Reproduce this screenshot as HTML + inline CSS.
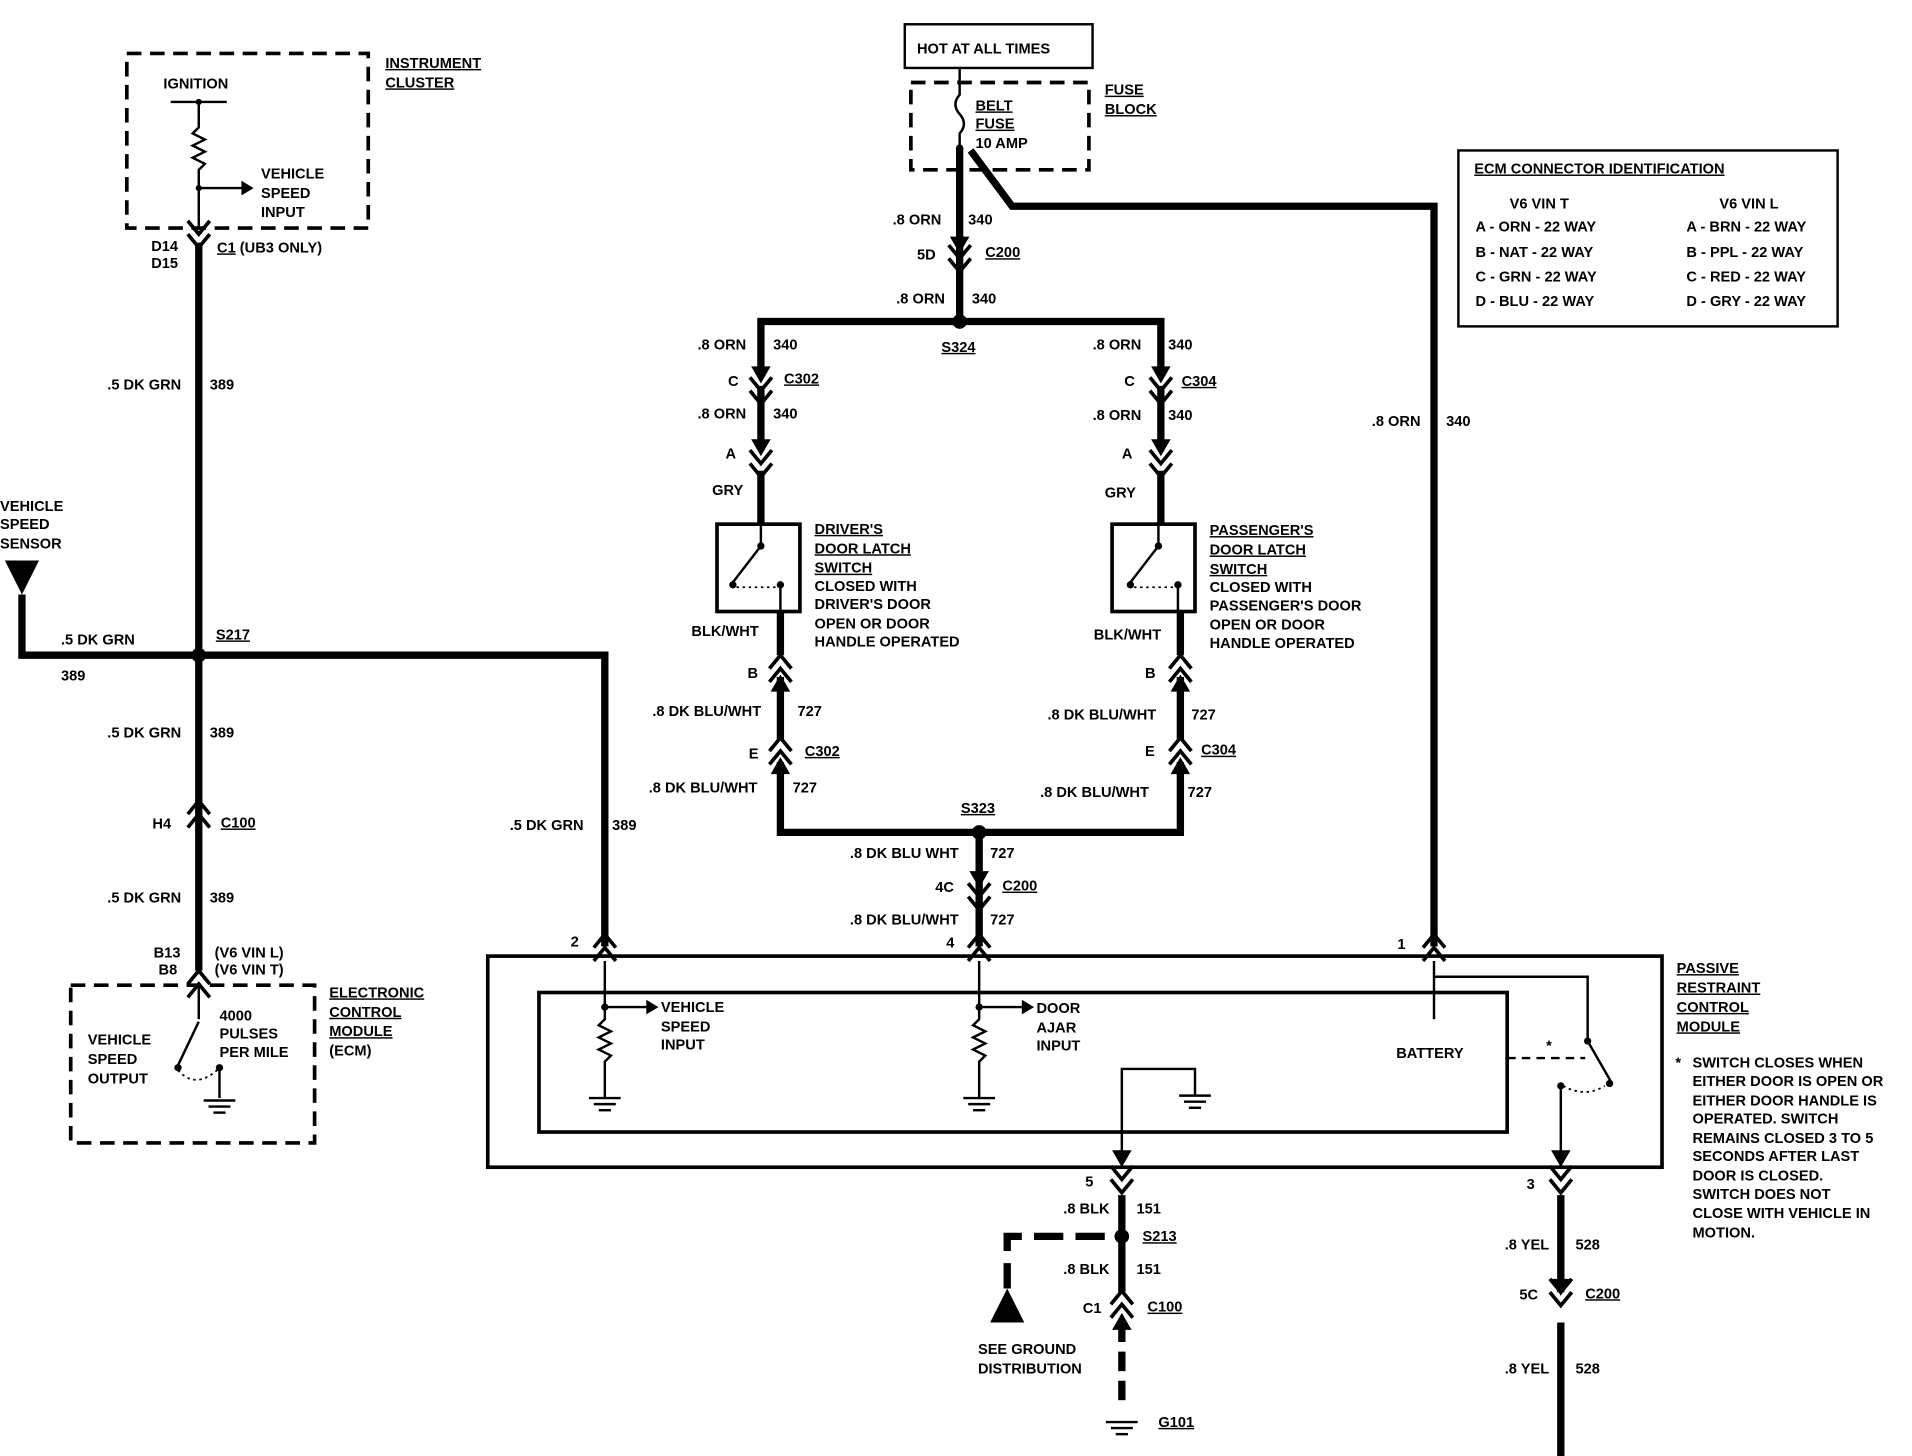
<!DOCTYPE html>
<html><head><meta charset="utf-8"><style>
html,body{margin:0;padding:0;background:#fff;}
svg{display:block;}
text{font-family:"Liberation Sans",sans-serif;font-weight:bold;font-size:12px;fill:#000;}
.u{text-decoration:underline;}
</style></head><body>
<svg width="1912" height="1456" viewBox="0 0 1568 1200" preserveAspectRatio="none" xmlns="http://www.w3.org/2000/svg">
<defs>
<g id="cd"><polyline points="-9,-14 0,-3 9,-14" fill="none" stroke="#000" stroke-width="3"/><polyline points="-9,-3 0,8 9,-3" fill="none" stroke="#000" stroke-width="3"/></g>
<g id="cu"><polyline points="-9,14 0,3 9,14" fill="none" stroke="#000" stroke-width="3"/><polyline points="-9,3 0,-8 9,3" fill="none" stroke="#000" stroke-width="3"/></g>
<g id="ad"><polygon points="-8,-10 8,-10 0,4" fill="#000"/></g>
<g id="au"><polygon points="-8,10 8,10 0,-4" fill="#000"/></g>
<g id="gnd"><line x1="-13" y1="0" x2="13" y2="0" stroke="#000" stroke-width="2"/><line x1="-9" y1="5" x2="9" y2="5" stroke="#000" stroke-width="2"/><line x1="-5" y1="10" x2="5" y2="10" stroke="#000" stroke-width="2"/></g>
</defs>
<g stroke="#000" fill="none">
<!-- instrument cluster -->
<rect x="104" y="44" width="198" height="144" stroke-width="3" stroke-dasharray="12,7"/>
<line x1="140" y1="84" x2="186" y2="84" stroke-width="2"/>
<polyline points="163,84 163,105 158,110 168,115 158,120 168,125 158,130 168,135 163,140 163,188" stroke-width="2"/>
<line x1="163" y1="155" x2="198" y2="155" stroke-width="2"/>
<!-- left main wire -->
<line x1="163" y1="200" x2="163" y2="800" stroke-width="6"/>
<polyline points="18,490 18,540 496,540 496,780" stroke-width="6"/>
<!-- ECM box -->
<rect x="58" y="812" width="200" height="130" stroke-width="3" stroke-dasharray="12,7"/>
<line x1="163" y1="812" x2="163" y2="840" stroke-width="2"/>
<line x1="163" y1="842" x2="146" y2="878" stroke-width="2"/>
<line x1="180" y1="880" x2="180" y2="905" stroke-width="2"/>
<path d="M146,882 Q160,898 178,882" stroke-width="1.5" stroke-dasharray="2,3"/>
<!-- fuse block -->
<rect x="747" y="68" width="146" height="72" stroke-width="3" stroke-dasharray="12,7"/>
<rect x="742" y="20" width="154" height="36" stroke-width="2"/>
<path d="M787,56 L787,78 Q780,86 787,94 Q794,102 787,110 L787,122" stroke-width="2"/>
<line x1="787" y1="122" x2="787" y2="265" stroke-width="6"/>
<polyline points="796,124 830,170 1176,170 1176,780" stroke-width="6"/>
<!-- upper bus -->
<polyline points="624,310 624,265 952,265 952,310" stroke-width="6"/>
<line x1="624" y1="318" x2="624" y2="370" stroke-width="6"/>
<line x1="624" y1="388" x2="624" y2="432" stroke-width="6"/>
<line x1="952" y1="318" x2="952" y2="370" stroke-width="6"/>
<line x1="952" y1="388" x2="952" y2="432" stroke-width="6"/>
<rect x="588" y="432" width="68" height="72" stroke-width="3"/>
<rect x="912" y="432" width="68" height="72" stroke-width="3"/>
<polyline points="624,432 624,450 601,480" stroke-width="2"/>
<polyline points="640,504 640,484" stroke-width="2"/>
<line x1="604" y1="484" x2="636" y2="484" stroke-width="1.5" stroke-dasharray="2,3"/>
<polyline points="950,432 950,450 927,480" stroke-width="2"/>
<polyline points="966,504 966,484" stroke-width="2"/>
<line x1="930" y1="484" x2="962" y2="484" stroke-width="1.5" stroke-dasharray="2,3"/>
<line x1="640" y1="504" x2="640" y2="540" stroke-width="6"/>
<line x1="640" y1="558" x2="640" y2="610" stroke-width="6"/>
<polyline points="640,628 640,686 968,686 968,628" stroke-width="6"/>
<line x1="968" y1="504" x2="968" y2="540" stroke-width="6"/>
<line x1="968" y1="558" x2="968" y2="610" stroke-width="6"/>
<line x1="803" y1="686" x2="803" y2="780" stroke-width="6"/>
<!-- PRCM -->
<rect x="400" y="788" width="963" height="174" stroke-width="3"/>
<rect x="442" y="818" width="794" height="115" stroke-width="3"/>
<polyline points="496,792 496,840 491,845 501,850 491,855 501,860 491,865 501,870 496,875 496,905" stroke-width="2"/>
<line x1="496" y1="830" x2="530" y2="830" stroke-width="2"/>
<polyline points="803,792 803,840 798,845 808,850 798,855 808,860 798,865 808,870 803,875 803,905" stroke-width="2"/>
<line x1="803" y1="830" x2="838" y2="830" stroke-width="2"/>
<polyline points="920,960 920,881 980,881 980,903" stroke-width="2"/>
<polyline points="1176,792 1176,840" stroke-width="2"/>
<line x1="1158" y1="818" x2="1196" y2="818" stroke-width="2"/>
<polyline points="1176,805 1302,805 1302,856" stroke-width="2"/>
<line x1="1302" y1="858" x2="1322" y2="893" stroke-width="2"/>
<polyline points="1280,960 1280,895" stroke-width="2"/>
<path d="M1282,895 Q1300,905 1316,895" stroke-width="1.5" stroke-dasharray="2,3"/>
<line x1="1236" y1="872" x2="1300" y2="872" stroke-width="2" stroke-dasharray="7,5"/>
<!-- bottom -->
<line x1="920" y1="985" x2="920" y2="1065" stroke-width="6"/>
<line x1="920" y1="1090" x2="920" y2="1160" stroke-width="6" stroke-dasharray="16,8"/>
<polyline points="906,1019 826,1019 826,1062" stroke-width="6" stroke-dasharray="24,10"/>
<line x1="1280" y1="985" x2="1280" y2="1065" stroke-width="6"/>
<line x1="1280" y1="1090" x2="1280" y2="1200" stroke-width="6"/>
<!-- ECM table -->
<rect x="1196" y="124" width="311" height="145" stroke-width="2"/>
</g>
<!-- filled shapes -->
<polygon points="4,462 32,462 18,490" fill="#000"/>
<polygon points="812,1090 840,1090 826,1062" fill="#000"/>
<polygon points="198,149 208,155 198,161" fill="#000"/>
<polygon points="530,824 540,830 530,836" fill="#000"/>
<polygon points="838,824 848,830 838,836" fill="#000"/>
<circle cx="163" cy="540" r="6"/><circle cx="787" cy="265" r="6"/><circle cx="803" cy="686" r="6"/><circle cx="920" cy="1019" r="6"/>
<circle cx="163" cy="84" r="2.5"/><circle cx="163" cy="155" r="2.5"/><circle cx="787" cy="122" r="3"/>
<circle cx="624" cy="450" r="3"/><circle cx="601" cy="482" r="3"/><circle cx="640" cy="482" r="3"/>
<circle cx="950" cy="450" r="3"/><circle cx="927" cy="482" r="3"/><circle cx="966" cy="482" r="3"/>
<circle cx="146" cy="880" r="3"/><circle cx="180" cy="880" r="3"/><circle cx="496" cy="830" r="3"/><circle cx="803" cy="830" r="3"/>
<circle cx="1302" cy="858" r="3"/><circle cx="1280" cy="895" r="3"/><circle cx="1320" cy="893" r="3"/>
<!-- connectors -->
<use href="#cd" x="163" y="196"/>
<use href="#cu" x="163" y="668"/>
<use href="#cu" x="163" y="808"/>
<use href="#ad" x="787" y="205"/><use href="#cd" x="787" y="216"/>
<use href="#ad" x="624" y="312"/><use href="#cd" x="624" y="325"/>
<use href="#ad" x="624" y="372"/><use href="#cd" x="624" y="385"/>
<use href="#ad" x="952" y="312"/><use href="#cd" x="952" y="325"/>
<use href="#ad" x="952" y="372"/><use href="#cd" x="952" y="385"/>
<use href="#cu" x="640" y="548"/><use href="#au" x="640" y="560"/>
<use href="#cu" x="640" y="616"/><use href="#au" x="640" y="628"/>
<use href="#cu" x="968" y="548"/><use href="#au" x="968" y="560"/>
<use href="#cu" x="968" y="616"/><use href="#au" x="968" y="628"/>
<use href="#ad" x="803" y="728"/><use href="#cd" x="803" y="742"/>
<use href="#cu" x="496" y="778"/><use href="#cu" x="803" y="778"/><use href="#cu" x="1176" y="778"/>
<use href="#ad" x="920" y="958"/><use href="#cd" x="920" y="975"/>
<use href="#ad" x="1280" y="958"/><use href="#cd" x="1280" y="975"/>
<use href="#cd" x="1280" y="1068"/><use href="#ad" x="1280" y="1064"/>
<use href="#cu" x="920" y="1072"/><use href="#au" x="920" y="1086"/>
<use href="#gnd" x="180" y="907"/><use href="#gnd" x="496" y="905"/><use href="#gnd" x="803" y="905"/><use href="#gnd" x="980" y="903"/><use href="#gnd" x="920" y="1172"/>
<!-- text -->
<text x="134" y="73">IGNITION</text>
<text x="214" y="147">VEHICLE</text><text x="214" y="163">SPEED</text><text x="214" y="179">INPUT</text>
<text x="316" y="56" class="u">INSTRUMENT</text><text x="316" y="72" class="u">CLUSTER</text>
<text x="124" y="207">D14</text><text x="124" y="221">D15</text>
<text x="178" y="208"><tspan class="u">C1</tspan> (UB3 ONLY)</text>
<text x="88" y="321">.5 DK GRN</text><text x="172" y="321">389</text>
<text x="0" y="421">VEHICLE</text><text x="0" y="436">SPEED</text><text x="0" y="452">SENSOR</text>
<text x="50" y="531">.5 DK GRN</text><text x="50" y="561">389</text><text x="177" y="527" class="u">S217</text>
<text x="88" y="608">.5 DK GRN</text><text x="172" y="608">389</text>
<text x="125" y="683">H4</text><text x="181" y="682" class="u">C100</text>
<text x="88" y="744">.5 DK GRN</text><text x="172" y="744">389</text>
<text x="126" y="789">B13</text><text x="176" y="789">(V6 VIN L)</text>
<text x="130" y="803">B8</text><text x="176" y="803">(V6 VIN T)</text>
<text x="72" y="861">VEHICLE</text><text x="72" y="877">SPEED</text><text x="72" y="893">OUTPUT</text>
<text x="180" y="841">4000</text><text x="180" y="856">PULSES</text><text x="180" y="871">PER MILE</text>
<text x="270" y="822" class="u">ELECTRONIC</text><text x="270" y="838" class="u">CONTROL</text><text x="270" y="854" class="u">MODULE</text><text x="270" y="870">(ECM)</text>
<text x="418" y="684">.5 DK GRN</text><text x="502" y="684">389</text>
<text x="752" y="44">HOT AT ALL TIMES</text>
<text x="800" y="91" class="u">BELT</text><text x="800" y="106" class="u">FUSE</text><text x="800" y="122">10 AMP</text>
<text x="906" y="78" class="u">FUSE</text><text x="906" y="94" class="u">BLOCK</text>
<text x="732" y="185">.8 ORN</text><text x="794" y="185">340</text>
<text x="752" y="214">5D</text><text x="808" y="212" class="u">C200</text>
<text x="735" y="250">.8 ORN</text><text x="797" y="250">340</text>
<text x="772" y="290" class="u">S324</text>
<text x="572" y="288">.8 ORN</text><text x="634" y="288">340</text>
<text x="597" y="318">C</text><text x="643" y="316" class="u">C302</text>
<text x="572" y="345">.8 ORN</text><text x="634" y="345">340</text>
<text x="595" y="378">A</text><text x="584" y="408">GRY</text>
<text x="896" y="288">.8 ORN</text><text x="958" y="288">340</text>
<text x="922" y="318">C</text><text x="969" y="318" class="u">C304</text>
<text x="896" y="346">.8 ORN</text><text x="958" y="346">340</text>
<text x="920" y="378">A</text><text x="906" y="410">GRY</text>
<text x="668" y="440" class="u">DRIVER'S</text><text x="668" y="456" class="u">DOOR LATCH</text><text x="668" y="472" class="u">SWITCH</text>
<text x="668" y="487">CLOSED WITH</text><text x="668" y="502">DRIVER'S DOOR</text><text x="668" y="518">OPEN OR DOOR</text><text x="668" y="533">HANDLE OPERATED</text>
<text x="992" y="441" class="u">PASSENGER'S</text><text x="992" y="457" class="u">DOOR LATCH</text><text x="992" y="473" class="u">SWITCH</text>
<text x="992" y="488">CLOSED WITH</text><text x="992" y="503">PASSENGER'S DOOR</text><text x="992" y="519">OPEN OR DOOR</text><text x="992" y="534">HANDLE OPERATED</text>
<text x="567" y="524">BLK/WHT</text><text x="897" y="527">BLK/WHT</text>
<text x="613" y="559">B</text><text x="939" y="559">B</text>
<text x="535" y="590">.8 DK BLU/WHT</text><text x="654" y="590">727</text>
<text x="859" y="593">.8 DK BLU/WHT</text><text x="977" y="593">727</text>
<text x="614" y="625">E</text><text x="660" y="623" class="u">C302</text>
<text x="939" y="623">E</text><text x="985" y="622" class="u">C304</text>
<text x="532" y="653">.8 DK BLU/WHT</text><text x="650" y="653">727</text>
<text x="853" y="657">.8 DK BLU/WHT</text><text x="974" y="657">727</text>
<text x="788" y="670" class="u">S323</text>
<text x="697" y="707">.8 DK BLU WHT</text><text x="812" y="707">727</text>
<text x="767" y="735">4C</text><text x="822" y="734" class="u">C200</text>
<text x="697" y="762">.8 DK BLU/WHT</text><text x="812" y="762">727</text>
<text x="1125" y="351">.8 ORN</text><text x="1186" y="351">340</text>
<text x="468" y="780">2</text><text x="776" y="781">4</text><text x="1146" y="782">1</text>
<text x="542" y="834">VEHICLE</text><text x="542" y="850">SPEED</text><text x="542" y="865">INPUT</text>
<text x="850" y="835">DOOR</text><text x="850" y="851">AJAR</text><text x="850" y="866">INPUT</text>
<text x="1145" y="872">BATTERY</text><text x="1268" y="866" font-size="16">*</text>
<text x="1375" y="802" class="u">PASSIVE</text><text x="1375" y="818" class="u">RESTRAINT</text><text x="1375" y="834" class="u">CONTROL</text><text x="1375" y="850" class="u">MODULE</text>
<text x="1374" y="880" font-size="16">*</text>
<text x="1388" y="880">SWITCH CLOSES WHEN</text><text x="1388" y="895">EITHER DOOR IS OPEN OR</text><text x="1388" y="911">EITHER DOOR HANDLE IS</text><text x="1388" y="926">OPERATED. SWITCH</text><text x="1388" y="942">REMAINS CLOSED 3 TO 5</text><text x="1388" y="957">SECONDS AFTER LAST</text><text x="1388" y="973">DOOR IS CLOSED.</text><text x="1388" y="988">SWITCH DOES NOT</text><text x="1388" y="1004">CLOSE WITH VEHICLE IN</text><text x="1388" y="1020">MOTION.</text>
<text x="890" y="978">5</text><text x="872" y="1000">.8 BLK</text><text x="932" y="1000">151</text>
<text x="937" y="1023" class="u">S213</text>
<text x="872" y="1050">.8 BLK</text><text x="932" y="1050">151</text>
<text x="888" y="1082">C1</text><text x="941" y="1081" class="u">C100</text>
<text x="802" y="1116">SEE GROUND</text><text x="802" y="1132">DISTRIBUTION</text>
<text x="950" y="1176" class="u">G101</text>
<text x="1252" y="980">3</text><text x="1234" y="1030">.8 YEL</text><text x="1292" y="1030">528</text>
<text x="1246" y="1071">5C</text><text x="1300" y="1070" class="u">C200</text>
<text x="1234" y="1132">.8 YEL</text><text x="1292" y="1132">528</text>
<text x="1209" y="143" font-size="16" class="u">ECM CONNECTOR IDENTIFICATION</text>
<text x="1238" y="172">V6 VIN T</text><text x="1410" y="172">V6 VIN L</text>
<text x="1210" y="191">A - ORN - 22 WAY</text><text x="1383" y="191">A - BRN - 22 WAY</text>
<text x="1210" y="212">B - NAT - 22 WAY</text><text x="1383" y="212">B - PPL - 22 WAY</text>
<text x="1210" y="232">C - GRN - 22 WAY</text><text x="1383" y="232">C - RED - 22 WAY</text>
<text x="1210" y="252">D - BLU - 22 WAY</text><text x="1383" y="252">D - GRY - 22 WAY</text>
</svg>
</body></html>
